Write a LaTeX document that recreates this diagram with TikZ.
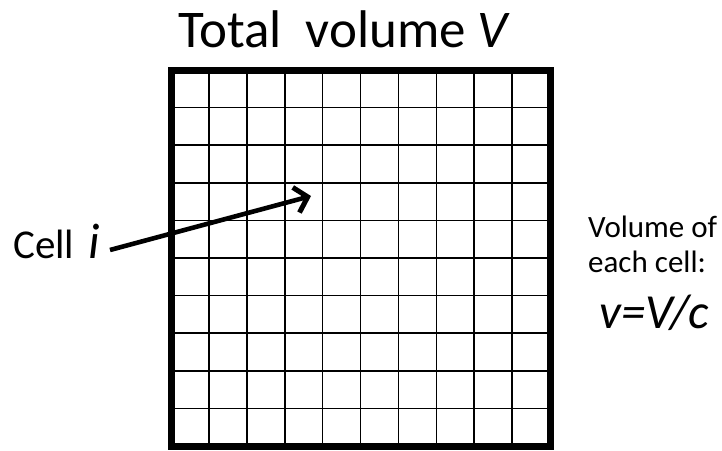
\documentclass[tikz,border=0pt]{standalone}
\usepackage{fontspec}
\setmainfont{Carlito}
\usetikzlibrary{arrows.meta}
\begin{document}
\begin{tikzpicture}[x=1pt,y=-1pt,
  lbl/.style={inner sep=0pt,anchor=base west},
  gridline/.style={line width=1.6pt},
  frame/.style={line width=7pt,line join=miter},
  pointer/.style={line width=4.6pt,-{Straight Barb[length=12pt,width=26pt,line width=5pt]}}]
\useasboundingbox (0,0) rectangle (722,450);
% grid
\foreach \k in {1,...,9}{
  \draw[gridline] ({171+\k*37.9},70) -- ({171+\k*37.9},446);
  \draw[gridline] (171,{70+\k*37.6}) -- (550,{70+\k*37.6});
}
\draw[frame] (171,70) rectangle (550,446);
% texts
\node[lbl,font=\fontsize{53}{62}\selectfont] (title) at (178,47) {Total\ \ volume \textit{V}};
\node[lbl,font=\fontsize{41}{48}\selectfont] (cell) at (13,258) {Cell\hspace{14pt}\fontsize{50}{58}\selectfont\textit{i}};
\node[lbl,font=\fontsize{31}{37}\selectfont] (vol1) at (588,237) {Volume of};
\node[lbl,font=\fontsize{31}{37}\selectfont] (vol2) at (588,272) {each cell:};
\node[lbl,font=\fontsize{49}{56}\selectfont] (formula) at (599,328) {\textit{v=V/c}};
% arrow
\coordinate (start) at (110,250);
\coordinate (target) at (311,196);
\draw[pointer] (start) -- (target);
\end{tikzpicture}
\end{document}
